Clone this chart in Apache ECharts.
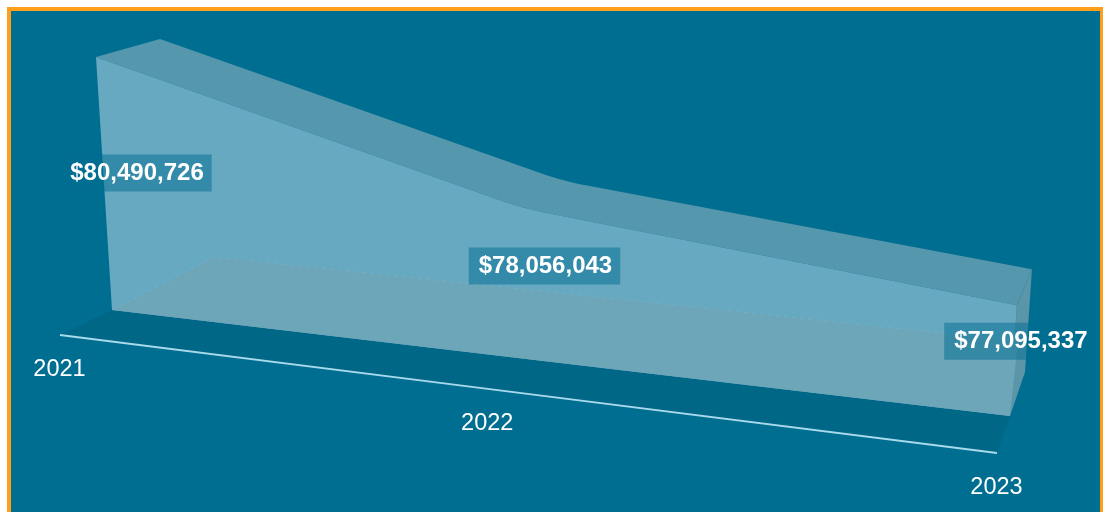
<!DOCTYPE html>
<html>
<head>
<meta charset="utf-8">
<style>
  html, body { margin: 0; padding: 0; background: #fff; overflow: hidden; }
  #frame {
    position: absolute; left: 7px; top: 7px; right: 0; bottom: 0;
    background: #006e91; border: solid #ff9e1b; border-width: 4px 3px 0 4px;
  }
  #chart { position: absolute; left: 0; top: 0; width: 1103px; height: 512px; }
</style>
<script src="https://cdn.jsdelivr.net/npm/echarts@6/dist/echarts.min.js"></script>
</head>
<body>
<div id="frame"></div>
<div id="chart"></div>
<script>
const categories = ['2021', '2022', '2023'];
const revenue = [80490726, 78056043, 77095337];
const valueLabels = ['$80,490,726', '$78,056,043', '$77,095,337'];

const axisMin = 75150000;
const axisMax = 80490726;

// Plot rectangle of the hidden cartesian grid; the slanted view is derived from it.
const GRID = { left: 100, top: 40, width: 900, height: 300 };

// Foreshortening of the slanted x direction (right end is nearer the viewer).
const W = 0.84;

// Corner pairs of the view: [bottom, top] edges, each as [left, right].
const FRONT = { bl: [112, 310], br: [1010, 416], tl: [96, 57], tr: [1029, 112] };
const BACK = { bl: [176, 282], br: [1025, 372], tl: [160, 39], tr: [1044, 90] };
const FLOOR_BACK = { l: [214, 257], r: [1018, 341] };
const AXIS = { l: [60, 335], r: [997, 453] };

const COLORS = {
  front: '#67a9c1', floor: '#6da5b9', top: '#5597ac', side: '#5b95aa',
  band: '#006787', axis: '#a8daec', labelBg: 'rgba(0,110,145,0.5)',
  seam: 'rgba(170,215,230,0.16)'
};

const labelOffset = [[40, 116], [22.5, 58], [3, 36]];
const tickOffset = [-0.5, 35];
const KNEE = 24;

function edge(a, b, u) {
  const d = 1 + u * (W - 1);
  return [(a[0] + u * (W * b[0] - a[0])) / d, (a[1] + u * (W * b[1] - a[1])) / d];
}
function project(q, u, t) {
  const lo = edge(q.bl, q.br, u), hi = edge(q.tl, q.tr, u);
  return [lo[0] + (hi[0] - lo[0]) * t, lo[1] + (hi[1] - lo[1]) * t];
}

// Softens the inner bends of a ridge line with a short quadratic arc.
function softened(points) {
  const out = [points[0]];
  for (let k = 1; k < points.length - 1; k++) {
    const p = points[k], a = points[k - 1], b = points[k + 1];
    const la = Math.hypot(p[0] - a[0], p[1] - a[1]);
    const lb = Math.hypot(p[0] - b[0], p[1] - b[1]);
    const s = [p[0] + (a[0] - p[0]) * KNEE / la, p[1] + (a[1] - p[1]) * KNEE / la];
    const e = [p[0] + (b[0] - p[0]) * KNEE / lb, p[1] + (b[1] - p[1]) * KNEE / lb];
    for (let j = 0; j <= 8; j++) {
      const f = j / 8, g = 1 - f;
      out.push([
        g * g * s[0] + 2 * g * f * p[0] + f * f * e[0],
        g * g * s[1] + 2 * g * f * p[1] + f * f * e[1]
      ]);
    }
  }
  out.push(points[points.length - 1]);
  return out;
}

function renderItem(params, api) {
  const toUnit = (i, v) => {
    const p = api.coord([i, v]);
    return [(p[0] - GRID.left) / GRID.width, (GRID.top + GRID.height - p[1]) / GRID.height];
  };
  const children = [];
  const poly = (points, fill) => children.push({
    type: 'polygon', shape: { points }, style: { fill, stroke: null }
  });
  const n = categories.length;
  const idx = categories.map((_, i) => i);

  if (params.dataIndex === 0) {
    const frontTop = idx.map(i => { const c = toUnit(i, revenue[i]); return project(FRONT, c[0], c[1]); });
    const backTop = idx.map(i => { const c = toUnit(i, revenue[i]); return project(BACK, c[0], c[1]); });
    const frontBase = idx.map(i => project(FRONT, toUnit(i, axisMin)[0], 0));
    const axisPts = idx.map(i => edge(AXIS.l, AXIS.r, toUnit(i, axisMin)[0]));
    const floorBack = idx.map(i => edge(FLOOR_BACK.l, FLOOR_BACK.r, toUnit(i, axisMin)[0]));
    const backBaseRight = project(BACK, toUnit(n - 1, axisMin)[0], 0);
    const frontRidge = softened(frontTop);
    const backRidge = softened(backTop);

    poly(axisPts.concat(frontBase.slice().reverse()), COLORS.band);
    poly(frontRidge.concat(backRidge.slice().reverse()), COLORS.top);
    poly([frontTop[n - 1], backTop[n - 1], backBaseRight, frontBase[n - 1]], COLORS.side);
    poly(frontRidge.concat(frontBase.slice().reverse()), COLORS.front);
    poly(frontBase.concat(floorBack.slice().reverse()), COLORS.floor);
    children.push({
      type: 'polyline', shape: { points: [frontBase[0]].concat(floorBack) },
      style: { stroke: COLORS.seam, lineWidth: 1, lineDash: [4, 4], fill: null }
    });
    children.push({
      type: 'polyline', shape: { points: axisPts },
      style: { stroke: COLORS.axis, lineWidth: 2, fill: null }
    });
    idx.forEach(i => {
      children.push({
        type: 'text',
        style: {
          x: axisPts[i][0] + tickOffset[0], y: axisPts[i][1] + tickOffset[1],
          text: categories[i], fill: '#fff', align: 'center', verticalAlign: 'middle',
          font: '23.5px "Liberation Sans", Arial, sans-serif'
        }
      });
    });
  }

  const i = params.dataIndex;
  const c = toUnit(i, api.value(1));
  const top = project(FRONT, c[0], c[1]);
  children.push({
    type: 'text', z2: 10,
    style: {
      x: top[0] + labelOffset[i][0], y: top[1] + labelOffset[i][1],
      text: valueLabels[i], fill: '#fff', align: 'center', verticalAlign: 'middle',
      font: 'bold 24px "Liberation Sans", Arial, sans-serif',
      lineHeight: 27, padding: [7, 8, 3, 10], backgroundColor: COLORS.labelBg
    }
  });
  return { type: 'group', children };
}

const chart = echarts.init(document.getElementById('chart'), null, { renderer: 'canvas', width: 1103, height: 512 });
chart.setOption({
  animation: false,
  backgroundColor: 'transparent',
  grid: {
    left: GRID.left, top: GRID.top, width: GRID.width, height: GRID.height
  },
  xAxis: { type: 'category', data: categories, boundaryGap: false, show: false },
  yAxis: { type: 'value', min: axisMin, max: axisMax, show: false },
  series: [{
    type: 'custom',
    clip: false,
    renderItem,
    encode: { x: 0, y: 1 },
    data: revenue.map((v, i) => [i, v])
  }]
});
</script>
</body>
</html>
